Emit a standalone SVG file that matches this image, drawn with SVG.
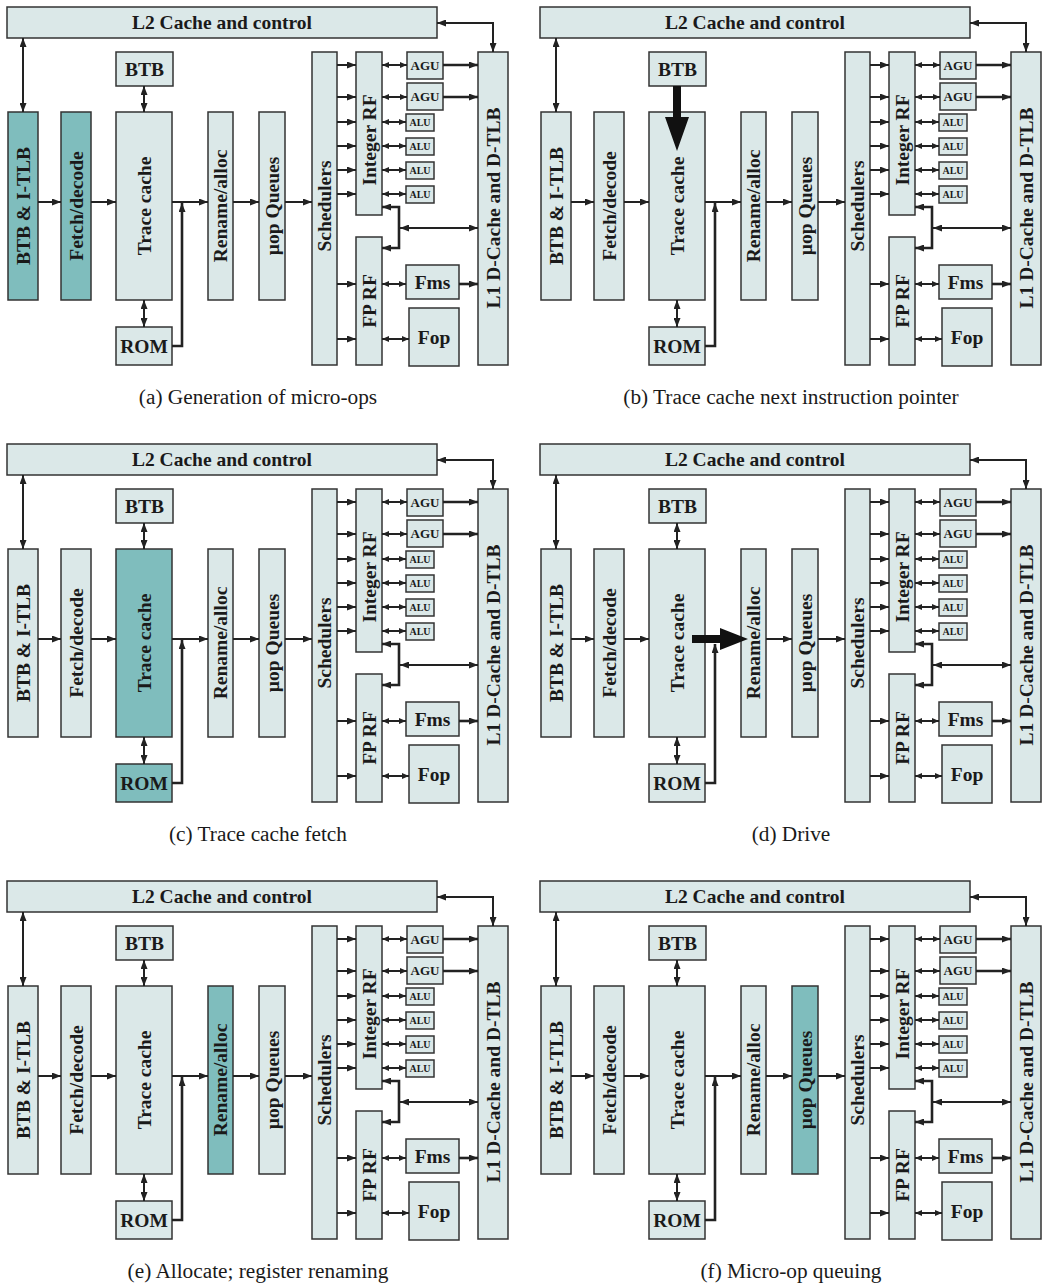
<svg xmlns="http://www.w3.org/2000/svg" width="1044" height="1284" viewBox="0 0 1044 1284">
<style>
.box{fill:#dbe8e8;stroke:#333;stroke-width:1.5}
.hl{fill:#7fbdbd}
.lbl{font-family:"Liberation Serif","Times New Roman",serif;font-weight:bold;font-size:19.5px;fill:#1a1a1a;text-anchor:middle}
.sm{font-size:13px}
.xs{font-size:10px}
.cap{font-family:"Liberation Serif","Times New Roman",serif;font-size:21.3px;fill:#1a1a1a;text-anchor:middle}
.ln{stroke:#222;stroke-width:2;fill:none}
.w{stroke-width:2.6}
.a1{marker-end:url(#ah)}
.a2{marker-start:url(#ah);marker-end:url(#ah)}
.s2{marker-start:url(#as);marker-end:url(#as)}
.big{fill:#111}
</style>
<defs>
<marker id="ah" markerUnits="userSpaceOnUse" markerWidth="9" markerHeight="7" viewBox="0 0 9 7" refX="9" refY="3.5" orient="auto-start-reverse"><path d="M0,0 L9,3.5 L0,7 z" fill="#222"/></marker>
<marker id="as" markerUnits="userSpaceOnUse" markerWidth="7" markerHeight="6" viewBox="0 0 7 6" refX="7" refY="3" orient="auto-start-reverse"><path d="M0,0 L7,3 L0,6 z" fill="#222"/></marker>
</defs>
<rect width="1044" height="1284" fill="#fff"/>

<!-- Panel a -->
<g id="panel-a" transform="translate(0,0)">
<g id="a-l2"><rect class="box" x="7" y="7" width="430" height="31"/><text class="lbl" x="222" y="29">L2 Cache and control</text></g>
<g id="a-btb"><rect class="box" x="116" y="52" width="57" height="34"/><text class="lbl" x="144.5" y="75.5">BTB</text></g>
<g id="a-itlb"><rect class="box hl" x="8" y="112" width="30" height="188"/><text class="lbl" x="23" y="206" dy="0.35em" transform="rotate(-90 23 206)">BTB &amp; I-TLB</text></g>
<g id="a-fetch"><rect class="box hl" x="61" y="112" width="30" height="188"/><text class="lbl" x="76" y="206" dy="0.35em" transform="rotate(-90 76 206)">Fetch/decode</text></g>
<g id="a-trace"><rect class="box" x="116" y="112" width="56" height="188"/><text class="lbl" x="144" y="206" dy="0.35em" transform="rotate(-90 144 206)">Trace cache</text></g>
<g id="a-rom"><rect class="box" x="116" y="327" width="56" height="38"/><text class="lbl" x="144" y="352.5">ROM</text></g>
<g id="a-rename"><rect class="box" x="208" y="112" width="25" height="188"/><text class="lbl" x="220.5" y="206" dy="0.35em" transform="rotate(-90 220.5 206)">Rename/alloc</text></g>
<g id="a-queues"><rect class="box" x="259" y="112" width="26" height="188"/><text class="lbl" x="272" y="206" dy="0.35em" transform="rotate(-90 272 206)">µop Queues</text></g>
<g id="a-sched"><rect class="box" x="312" y="52" width="25" height="313"/><text class="lbl" x="324.5" y="206" dy="0.35em" transform="rotate(-90 324.5 206)">Schedulers</text></g>
<g id="a-intrf"><rect class="box" x="356" y="52" width="26" height="163"/><text class="lbl" x="369" y="140" dy="0.35em" transform="rotate(-90 369 140)">Integer RF</text></g>
<g id="a-fprf"><rect class="box" x="356" y="237" width="26" height="128"/><text class="lbl" x="369" y="301" dy="0.35em" transform="rotate(-90 369 301)">FP RF</text></g>
<g id="a-agu1"><rect class="box" x="407" y="52" width="36" height="27"/><text class="lbl sm" x="425" y="70">AGU</text></g>
<g id="a-agu2"><rect class="box" x="407" y="83" width="36" height="27"/><text class="lbl sm" x="425" y="101">AGU</text></g>
<g id="a-alu1"><rect class="box" x="406" y="114" width="28" height="17"/><text class="lbl xs" x="420" y="126">ALU</text></g>
<g id="a-alu2"><rect class="box" x="406" y="138" width="28" height="17"/><text class="lbl xs" x="420" y="150">ALU</text></g>
<g id="a-alu3"><rect class="box" x="406" y="162" width="28" height="17"/><text class="lbl xs" x="420" y="174">ALU</text></g>
<g id="a-alu4"><rect class="box" x="406" y="186" width="28" height="17"/><text class="lbl xs" x="420" y="198">ALU</text></g>
<g id="a-fms"><rect class="box" x="406" y="265" width="53" height="34"/><text class="lbl" x="432.5" y="288.5">Fms</text></g>
<g id="a-fop"><rect class="box" x="409" y="308" width="50" height="58"/><text class="lbl" x="434" y="343.5">Fop</text></g>
<g id="a-l1"><rect class="box" x="478" y="52" width="30" height="313"/><text class="lbl" x="493" y="208" dy="0.35em" transform="rotate(-90 493 208)">L1 D-Cache and D-TLB</text></g>
<g id="a-connectors">
<path class="ln a2" d="M23,38 V112"/>
<path class="ln a2" d="M493,52 V23 H437"/>
<path class="ln a2" d="M144,86 V112"/>
<path class="ln a2" d="M144,300 V327"/>
<path class="ln a1" d="M38,202 H61"/>
<path class="ln a1" d="M91,202 H116"/>
<path class="ln a1" d="M172,202 H208"/>
<path class="ln w a1" d="M172,346 H182 V203"/>
<path class="ln a1" d="M233,202 H259"/>
<path class="ln a1" d="M285,202 H312"/>
<path class="ln a1" d="M337,65 H356"/>
<path class="ln a1" d="M337,97 H356"/>
<path class="ln a1" d="M337,122 H356"/>
<path class="ln a1" d="M337,146 H356"/>
<path class="ln a1" d="M337,170 H356"/>
<path class="ln a1" d="M337,194 H356"/>
<path class="ln s2" d="M382,65 H407"/>
<path class="ln s2" d="M382,97 H407"/>
<path class="ln s2" d="M382,122 H406"/>
<path class="ln s2" d="M382,146 H406"/>
<path class="ln s2" d="M382,170 H406"/>
<path class="ln s2" d="M382,194 H406"/>
<path class="ln w a1" d="M443,65 H478"/>
<path class="ln w a1" d="M443,97 H478"/>
<path class="ln w a2" d="M382,207 H399 V248 H382"/>
<path class="ln a2" d="M400,228 H478"/>
<path class="ln a1" d="M337,284 H356"/>
<path class="ln a1" d="M337,339 H356"/>
<path class="ln s2" d="M382,284 H406"/>
<path class="ln s2" d="M382,339 H409"/>
<path class="ln w a1" d="M459,284 H478"/>
</g>
<text id="a-caption" class="cap" x="258" y="404">(a) Generation of micro-ops</text>
</g>

<!-- Panel b -->
<g id="panel-b" transform="translate(533,0)">
<g id="b-l2"><rect class="box" x="7" y="7" width="430" height="31"/><text class="lbl" x="222" y="29">L2 Cache and control</text></g>
<g id="b-btb"><rect class="box" x="116" y="52" width="57" height="34"/><text class="lbl" x="144.5" y="75.5">BTB</text></g>
<g id="b-itlb"><rect class="box" x="8" y="112" width="30" height="188"/><text class="lbl" x="23" y="206" dy="0.35em" transform="rotate(-90 23 206)">BTB &amp; I-TLB</text></g>
<g id="b-fetch"><rect class="box" x="61" y="112" width="30" height="188"/><text class="lbl" x="76" y="206" dy="0.35em" transform="rotate(-90 76 206)">Fetch/decode</text></g>
<g id="b-trace"><rect class="box" x="116" y="112" width="56" height="188"/><text class="lbl" x="144" y="206" dy="0.35em" transform="rotate(-90 144 206)">Trace cache</text></g>
<g id="b-rom"><rect class="box" x="116" y="327" width="56" height="38"/><text class="lbl" x="144" y="352.5">ROM</text></g>
<g id="b-rename"><rect class="box" x="208" y="112" width="25" height="188"/><text class="lbl" x="220.5" y="206" dy="0.35em" transform="rotate(-90 220.5 206)">Rename/alloc</text></g>
<g id="b-queues"><rect class="box" x="259" y="112" width="26" height="188"/><text class="lbl" x="272" y="206" dy="0.35em" transform="rotate(-90 272 206)">µop Queues</text></g>
<g id="b-sched"><rect class="box" x="312" y="52" width="25" height="313"/><text class="lbl" x="324.5" y="206" dy="0.35em" transform="rotate(-90 324.5 206)">Schedulers</text></g>
<g id="b-intrf"><rect class="box" x="356" y="52" width="26" height="163"/><text class="lbl" x="369" y="140" dy="0.35em" transform="rotate(-90 369 140)">Integer RF</text></g>
<g id="b-fprf"><rect class="box" x="356" y="237" width="26" height="128"/><text class="lbl" x="369" y="301" dy="0.35em" transform="rotate(-90 369 301)">FP RF</text></g>
<g id="b-agu1"><rect class="box" x="407" y="52" width="36" height="27"/><text class="lbl sm" x="425" y="70">AGU</text></g>
<g id="b-agu2"><rect class="box" x="407" y="83" width="36" height="27"/><text class="lbl sm" x="425" y="101">AGU</text></g>
<g id="b-alu1"><rect class="box" x="406" y="114" width="28" height="17"/><text class="lbl xs" x="420" y="126">ALU</text></g>
<g id="b-alu2"><rect class="box" x="406" y="138" width="28" height="17"/><text class="lbl xs" x="420" y="150">ALU</text></g>
<g id="b-alu3"><rect class="box" x="406" y="162" width="28" height="17"/><text class="lbl xs" x="420" y="174">ALU</text></g>
<g id="b-alu4"><rect class="box" x="406" y="186" width="28" height="17"/><text class="lbl xs" x="420" y="198">ALU</text></g>
<g id="b-fms"><rect class="box" x="406" y="265" width="53" height="34"/><text class="lbl" x="432.5" y="288.5">Fms</text></g>
<g id="b-fop"><rect class="box" x="409" y="308" width="50" height="58"/><text class="lbl" x="434" y="343.5">Fop</text></g>
<g id="b-l1"><rect class="box" x="478" y="52" width="30" height="313"/><text class="lbl" x="493" y="208" dy="0.35em" transform="rotate(-90 493 208)">L1 D-Cache and D-TLB</text></g>
<g id="b-connectors">
<path class="ln a2" d="M23,38 V112"/>
<path class="ln a2" d="M493,52 V23 H437"/>
<path class="ln a2" d="M144,300 V327"/>
<path class="ln a1" d="M38,202 H61"/>
<path class="ln a1" d="M91,202 H116"/>
<path class="ln a1" d="M172,202 H208"/>
<path class="ln w a1" d="M172,346 H182 V203"/>
<path class="ln a1" d="M233,202 H259"/>
<path class="ln a1" d="M285,202 H312"/>
<path class="ln a1" d="M337,65 H356"/>
<path class="ln a1" d="M337,97 H356"/>
<path class="ln a1" d="M337,122 H356"/>
<path class="ln a1" d="M337,146 H356"/>
<path class="ln a1" d="M337,170 H356"/>
<path class="ln a1" d="M337,194 H356"/>
<path class="ln s2" d="M382,65 H407"/>
<path class="ln s2" d="M382,97 H407"/>
<path class="ln s2" d="M382,122 H406"/>
<path class="ln s2" d="M382,146 H406"/>
<path class="ln s2" d="M382,170 H406"/>
<path class="ln s2" d="M382,194 H406"/>
<path class="ln w a1" d="M443,65 H478"/>
<path class="ln w a1" d="M443,97 H478"/>
<path class="ln w a2" d="M382,207 H399 V248 H382"/>
<path class="ln a2" d="M400,228 H478"/>
<path class="ln a1" d="M337,284 H356"/>
<path class="ln a1" d="M337,339 H356"/>
<path class="ln s2" d="M382,284 H406"/>
<path class="ln s2" d="M382,339 H409"/>
<path class="ln w a1" d="M459,284 H478"/>
<path id="b-bigarrow" class="big" d="M140,86 H148 V117 H156 L144,151 L132,117 H140 Z"/>
</g>
<text id="b-caption" class="cap" x="258" y="404">(b) Trace cache next instruction pointer</text>
</g>

<!-- Panel c -->
<g id="panel-c" transform="translate(0,437)">
<g id="c-l2"><rect class="box" x="7" y="7" width="430" height="31"/><text class="lbl" x="222" y="29">L2 Cache and control</text></g>
<g id="c-btb"><rect class="box" x="116" y="52" width="57" height="34"/><text class="lbl" x="144.5" y="75.5">BTB</text></g>
<g id="c-itlb"><rect class="box" x="8" y="112" width="30" height="188"/><text class="lbl" x="23" y="206" dy="0.35em" transform="rotate(-90 23 206)">BTB &amp; I-TLB</text></g>
<g id="c-fetch"><rect class="box" x="61" y="112" width="30" height="188"/><text class="lbl" x="76" y="206" dy="0.35em" transform="rotate(-90 76 206)">Fetch/decode</text></g>
<g id="c-trace"><rect class="box hl" x="116" y="112" width="56" height="188"/><text class="lbl" x="144" y="206" dy="0.35em" transform="rotate(-90 144 206)">Trace cache</text></g>
<g id="c-rom"><rect class="box hl" x="116" y="327" width="56" height="38"/><text class="lbl" x="144" y="352.5">ROM</text></g>
<g id="c-rename"><rect class="box" x="208" y="112" width="25" height="188"/><text class="lbl" x="220.5" y="206" dy="0.35em" transform="rotate(-90 220.5 206)">Rename/alloc</text></g>
<g id="c-queues"><rect class="box" x="259" y="112" width="26" height="188"/><text class="lbl" x="272" y="206" dy="0.35em" transform="rotate(-90 272 206)">µop Queues</text></g>
<g id="c-sched"><rect class="box" x="312" y="52" width="25" height="313"/><text class="lbl" x="324.5" y="206" dy="0.35em" transform="rotate(-90 324.5 206)">Schedulers</text></g>
<g id="c-intrf"><rect class="box" x="356" y="52" width="26" height="163"/><text class="lbl" x="369" y="140" dy="0.35em" transform="rotate(-90 369 140)">Integer RF</text></g>
<g id="c-fprf"><rect class="box" x="356" y="237" width="26" height="128"/><text class="lbl" x="369" y="301" dy="0.35em" transform="rotate(-90 369 301)">FP RF</text></g>
<g id="c-agu1"><rect class="box" x="407" y="52" width="36" height="27"/><text class="lbl sm" x="425" y="70">AGU</text></g>
<g id="c-agu2"><rect class="box" x="407" y="83" width="36" height="27"/><text class="lbl sm" x="425" y="101">AGU</text></g>
<g id="c-alu1"><rect class="box" x="406" y="114" width="28" height="17"/><text class="lbl xs" x="420" y="126">ALU</text></g>
<g id="c-alu2"><rect class="box" x="406" y="138" width="28" height="17"/><text class="lbl xs" x="420" y="150">ALU</text></g>
<g id="c-alu3"><rect class="box" x="406" y="162" width="28" height="17"/><text class="lbl xs" x="420" y="174">ALU</text></g>
<g id="c-alu4"><rect class="box" x="406" y="186" width="28" height="17"/><text class="lbl xs" x="420" y="198">ALU</text></g>
<g id="c-fms"><rect class="box" x="406" y="265" width="53" height="34"/><text class="lbl" x="432.5" y="288.5">Fms</text></g>
<g id="c-fop"><rect class="box" x="409" y="308" width="50" height="58"/><text class="lbl" x="434" y="343.5">Fop</text></g>
<g id="c-l1"><rect class="box" x="478" y="52" width="30" height="313"/><text class="lbl" x="493" y="208" dy="0.35em" transform="rotate(-90 493 208)">L1 D-Cache and D-TLB</text></g>
<g id="c-connectors">
<path class="ln a2" d="M23,38 V112"/>
<path class="ln a2" d="M493,52 V23 H437"/>
<path class="ln a2" d="M144,86 V112"/>
<path class="ln a2" d="M144,300 V327"/>
<path class="ln a1" d="M38,202 H61"/>
<path class="ln a1" d="M91,202 H116"/>
<path class="ln a1" d="M172,202 H208"/>
<path class="ln w a1" d="M172,346 H182 V203"/>
<path class="ln a1" d="M233,202 H259"/>
<path class="ln a1" d="M285,202 H312"/>
<path class="ln a1" d="M337,65 H356"/>
<path class="ln a1" d="M337,97 H356"/>
<path class="ln a1" d="M337,122 H356"/>
<path class="ln a1" d="M337,146 H356"/>
<path class="ln a1" d="M337,170 H356"/>
<path class="ln a1" d="M337,194 H356"/>
<path class="ln s2" d="M382,65 H407"/>
<path class="ln s2" d="M382,97 H407"/>
<path class="ln s2" d="M382,122 H406"/>
<path class="ln s2" d="M382,146 H406"/>
<path class="ln s2" d="M382,170 H406"/>
<path class="ln s2" d="M382,194 H406"/>
<path class="ln w a1" d="M443,65 H478"/>
<path class="ln w a1" d="M443,97 H478"/>
<path class="ln w a2" d="M382,207 H399 V248 H382"/>
<path class="ln a2" d="M400,228 H478"/>
<path class="ln a1" d="M337,284 H356"/>
<path class="ln a1" d="M337,339 H356"/>
<path class="ln s2" d="M382,284 H406"/>
<path class="ln s2" d="M382,339 H409"/>
<path class="ln w a1" d="M459,284 H478"/>
</g>
<text id="c-caption" class="cap" x="258" y="404">(c) Trace cache fetch</text>
</g>

<!-- Panel d -->
<g id="panel-d" transform="translate(533,437)">
<g id="d-l2"><rect class="box" x="7" y="7" width="430" height="31"/><text class="lbl" x="222" y="29">L2 Cache and control</text></g>
<g id="d-btb"><rect class="box" x="116" y="52" width="57" height="34"/><text class="lbl" x="144.5" y="75.5">BTB</text></g>
<g id="d-itlb"><rect class="box" x="8" y="112" width="30" height="188"/><text class="lbl" x="23" y="206" dy="0.35em" transform="rotate(-90 23 206)">BTB &amp; I-TLB</text></g>
<g id="d-fetch"><rect class="box" x="61" y="112" width="30" height="188"/><text class="lbl" x="76" y="206" dy="0.35em" transform="rotate(-90 76 206)">Fetch/decode</text></g>
<g id="d-trace"><rect class="box" x="116" y="112" width="56" height="188"/><text class="lbl" x="144" y="206" dy="0.35em" transform="rotate(-90 144 206)">Trace cache</text></g>
<g id="d-rom"><rect class="box" x="116" y="327" width="56" height="38"/><text class="lbl" x="144" y="352.5">ROM</text></g>
<g id="d-rename"><rect class="box" x="208" y="112" width="25" height="188"/><text class="lbl" x="220.5" y="206" dy="0.35em" transform="rotate(-90 220.5 206)">Rename/alloc</text></g>
<g id="d-queues"><rect class="box" x="259" y="112" width="26" height="188"/><text class="lbl" x="272" y="206" dy="0.35em" transform="rotate(-90 272 206)">µop Queues</text></g>
<g id="d-sched"><rect class="box" x="312" y="52" width="25" height="313"/><text class="lbl" x="324.5" y="206" dy="0.35em" transform="rotate(-90 324.5 206)">Schedulers</text></g>
<g id="d-intrf"><rect class="box" x="356" y="52" width="26" height="163"/><text class="lbl" x="369" y="140" dy="0.35em" transform="rotate(-90 369 140)">Integer RF</text></g>
<g id="d-fprf"><rect class="box" x="356" y="237" width="26" height="128"/><text class="lbl" x="369" y="301" dy="0.35em" transform="rotate(-90 369 301)">FP RF</text></g>
<g id="d-agu1"><rect class="box" x="407" y="52" width="36" height="27"/><text class="lbl sm" x="425" y="70">AGU</text></g>
<g id="d-agu2"><rect class="box" x="407" y="83" width="36" height="27"/><text class="lbl sm" x="425" y="101">AGU</text></g>
<g id="d-alu1"><rect class="box" x="406" y="114" width="28" height="17"/><text class="lbl xs" x="420" y="126">ALU</text></g>
<g id="d-alu2"><rect class="box" x="406" y="138" width="28" height="17"/><text class="lbl xs" x="420" y="150">ALU</text></g>
<g id="d-alu3"><rect class="box" x="406" y="162" width="28" height="17"/><text class="lbl xs" x="420" y="174">ALU</text></g>
<g id="d-alu4"><rect class="box" x="406" y="186" width="28" height="17"/><text class="lbl xs" x="420" y="198">ALU</text></g>
<g id="d-fms"><rect class="box" x="406" y="265" width="53" height="34"/><text class="lbl" x="432.5" y="288.5">Fms</text></g>
<g id="d-fop"><rect class="box" x="409" y="308" width="50" height="58"/><text class="lbl" x="434" y="343.5">Fop</text></g>
<g id="d-l1"><rect class="box" x="478" y="52" width="30" height="313"/><text class="lbl" x="493" y="208" dy="0.35em" transform="rotate(-90 493 208)">L1 D-Cache and D-TLB</text></g>
<g id="d-connectors">
<path class="ln a2" d="M23,38 V112"/>
<path class="ln a2" d="M493,52 V23 H437"/>
<path class="ln a2" d="M144,86 V112"/>
<path class="ln a2" d="M144,300 V327"/>
<path class="ln a1" d="M38,202 H61"/>
<path class="ln a1" d="M91,202 H116"/>
<path class="ln w a1" d="M172,346 H182 V207"/>
<path class="ln a1" d="M233,202 H259"/>
<path class="ln a1" d="M285,202 H312"/>
<path class="ln a1" d="M337,65 H356"/>
<path class="ln a1" d="M337,97 H356"/>
<path class="ln a1" d="M337,122 H356"/>
<path class="ln a1" d="M337,146 H356"/>
<path class="ln a1" d="M337,170 H356"/>
<path class="ln a1" d="M337,194 H356"/>
<path class="ln s2" d="M382,65 H407"/>
<path class="ln s2" d="M382,97 H407"/>
<path class="ln s2" d="M382,122 H406"/>
<path class="ln s2" d="M382,146 H406"/>
<path class="ln s2" d="M382,170 H406"/>
<path class="ln s2" d="M382,194 H406"/>
<path class="ln w a1" d="M443,65 H478"/>
<path class="ln w a1" d="M443,97 H478"/>
<path class="ln w a2" d="M382,207 H399 V248 H382"/>
<path class="ln a2" d="M400,228 H478"/>
<path class="ln a1" d="M337,284 H356"/>
<path class="ln a1" d="M337,339 H356"/>
<path class="ln s2" d="M382,284 H406"/>
<path class="ln s2" d="M382,339 H409"/>
<path class="ln w a1" d="M459,284 H478"/>
<path id="d-bigarrow" class="big" d="M159,198 H187 V191 L215,202 L187,213 V206 H159 Z"/>
</g>
<text id="d-caption" class="cap" x="258" y="404">(d) Drive</text>
</g>

<!-- Panel e -->
<g id="panel-e" transform="translate(0,874)">
<g id="e-l2"><rect class="box" x="7" y="7" width="430" height="31"/><text class="lbl" x="222" y="29">L2 Cache and control</text></g>
<g id="e-btb"><rect class="box" x="116" y="52" width="57" height="34"/><text class="lbl" x="144.5" y="75.5">BTB</text></g>
<g id="e-itlb"><rect class="box" x="8" y="112" width="30" height="188"/><text class="lbl" x="23" y="206" dy="0.35em" transform="rotate(-90 23 206)">BTB &amp; I-TLB</text></g>
<g id="e-fetch"><rect class="box" x="61" y="112" width="30" height="188"/><text class="lbl" x="76" y="206" dy="0.35em" transform="rotate(-90 76 206)">Fetch/decode</text></g>
<g id="e-trace"><rect class="box" x="116" y="112" width="56" height="188"/><text class="lbl" x="144" y="206" dy="0.35em" transform="rotate(-90 144 206)">Trace cache</text></g>
<g id="e-rom"><rect class="box" x="116" y="327" width="56" height="38"/><text class="lbl" x="144" y="352.5">ROM</text></g>
<g id="e-rename"><rect class="box hl" x="208" y="112" width="25" height="188"/><text class="lbl" x="220.5" y="206" dy="0.35em" transform="rotate(-90 220.5 206)">Rename/alloc</text></g>
<g id="e-queues"><rect class="box" x="259" y="112" width="26" height="188"/><text class="lbl" x="272" y="206" dy="0.35em" transform="rotate(-90 272 206)">µop Queues</text></g>
<g id="e-sched"><rect class="box" x="312" y="52" width="25" height="313"/><text class="lbl" x="324.5" y="206" dy="0.35em" transform="rotate(-90 324.5 206)">Schedulers</text></g>
<g id="e-intrf"><rect class="box" x="356" y="52" width="26" height="163"/><text class="lbl" x="369" y="140" dy="0.35em" transform="rotate(-90 369 140)">Integer RF</text></g>
<g id="e-fprf"><rect class="box" x="356" y="237" width="26" height="128"/><text class="lbl" x="369" y="301" dy="0.35em" transform="rotate(-90 369 301)">FP RF</text></g>
<g id="e-agu1"><rect class="box" x="407" y="52" width="36" height="27"/><text class="lbl sm" x="425" y="70">AGU</text></g>
<g id="e-agu2"><rect class="box" x="407" y="83" width="36" height="27"/><text class="lbl sm" x="425" y="101">AGU</text></g>
<g id="e-alu1"><rect class="box" x="406" y="114" width="28" height="17"/><text class="lbl xs" x="420" y="126">ALU</text></g>
<g id="e-alu2"><rect class="box" x="406" y="138" width="28" height="17"/><text class="lbl xs" x="420" y="150">ALU</text></g>
<g id="e-alu3"><rect class="box" x="406" y="162" width="28" height="17"/><text class="lbl xs" x="420" y="174">ALU</text></g>
<g id="e-alu4"><rect class="box" x="406" y="186" width="28" height="17"/><text class="lbl xs" x="420" y="198">ALU</text></g>
<g id="e-fms"><rect class="box" x="406" y="265" width="53" height="34"/><text class="lbl" x="432.5" y="288.5">Fms</text></g>
<g id="e-fop"><rect class="box" x="409" y="308" width="50" height="58"/><text class="lbl" x="434" y="343.5">Fop</text></g>
<g id="e-l1"><rect class="box" x="478" y="52" width="30" height="313"/><text class="lbl" x="493" y="208" dy="0.35em" transform="rotate(-90 493 208)">L1 D-Cache and D-TLB</text></g>
<g id="e-connectors">
<path class="ln a2" d="M23,38 V112"/>
<path class="ln a2" d="M493,52 V23 H437"/>
<path class="ln a2" d="M144,86 V112"/>
<path class="ln a2" d="M144,300 V327"/>
<path class="ln a1" d="M38,202 H61"/>
<path class="ln a1" d="M91,202 H116"/>
<path class="ln a1" d="M172,202 H208"/>
<path class="ln w a1" d="M172,346 H182 V203"/>
<path class="ln a1" d="M233,202 H259"/>
<path class="ln a1" d="M285,202 H312"/>
<path class="ln a1" d="M337,65 H356"/>
<path class="ln a1" d="M337,97 H356"/>
<path class="ln a1" d="M337,122 H356"/>
<path class="ln a1" d="M337,146 H356"/>
<path class="ln a1" d="M337,170 H356"/>
<path class="ln a1" d="M337,194 H356"/>
<path class="ln s2" d="M382,65 H407"/>
<path class="ln s2" d="M382,97 H407"/>
<path class="ln s2" d="M382,122 H406"/>
<path class="ln s2" d="M382,146 H406"/>
<path class="ln s2" d="M382,170 H406"/>
<path class="ln s2" d="M382,194 H406"/>
<path class="ln w a1" d="M443,65 H478"/>
<path class="ln w a1" d="M443,97 H478"/>
<path class="ln w a2" d="M382,207 H399 V248 H382"/>
<path class="ln a2" d="M400,228 H478"/>
<path class="ln a1" d="M337,284 H356"/>
<path class="ln a1" d="M337,339 H356"/>
<path class="ln s2" d="M382,284 H406"/>
<path class="ln s2" d="M382,339 H409"/>
<path class="ln w a1" d="M459,284 H478"/>
</g>
<text id="e-caption" class="cap" x="258" y="404">(e) Allocate; register renaming</text>
</g>

<!-- Panel f -->
<g id="panel-f" transform="translate(533,874)">
<g id="f-l2"><rect class="box" x="7" y="7" width="430" height="31"/><text class="lbl" x="222" y="29">L2 Cache and control</text></g>
<g id="f-btb"><rect class="box" x="116" y="52" width="57" height="34"/><text class="lbl" x="144.5" y="75.5">BTB</text></g>
<g id="f-itlb"><rect class="box" x="8" y="112" width="30" height="188"/><text class="lbl" x="23" y="206" dy="0.35em" transform="rotate(-90 23 206)">BTB &amp; I-TLB</text></g>
<g id="f-fetch"><rect class="box" x="61" y="112" width="30" height="188"/><text class="lbl" x="76" y="206" dy="0.35em" transform="rotate(-90 76 206)">Fetch/decode</text></g>
<g id="f-trace"><rect class="box" x="116" y="112" width="56" height="188"/><text class="lbl" x="144" y="206" dy="0.35em" transform="rotate(-90 144 206)">Trace cache</text></g>
<g id="f-rom"><rect class="box" x="116" y="327" width="56" height="38"/><text class="lbl" x="144" y="352.5">ROM</text></g>
<g id="f-rename"><rect class="box" x="208" y="112" width="25" height="188"/><text class="lbl" x="220.5" y="206" dy="0.35em" transform="rotate(-90 220.5 206)">Rename/alloc</text></g>
<g id="f-queues"><rect class="box hl" x="259" y="112" width="26" height="188"/><text class="lbl" x="272" y="206" dy="0.35em" transform="rotate(-90 272 206)">µop Queues</text></g>
<g id="f-sched"><rect class="box" x="312" y="52" width="25" height="313"/><text class="lbl" x="324.5" y="206" dy="0.35em" transform="rotate(-90 324.5 206)">Schedulers</text></g>
<g id="f-intrf"><rect class="box" x="356" y="52" width="26" height="163"/><text class="lbl" x="369" y="140" dy="0.35em" transform="rotate(-90 369 140)">Integer RF</text></g>
<g id="f-fprf"><rect class="box" x="356" y="237" width="26" height="128"/><text class="lbl" x="369" y="301" dy="0.35em" transform="rotate(-90 369 301)">FP RF</text></g>
<g id="f-agu1"><rect class="box" x="407" y="52" width="36" height="27"/><text class="lbl sm" x="425" y="70">AGU</text></g>
<g id="f-agu2"><rect class="box" x="407" y="83" width="36" height="27"/><text class="lbl sm" x="425" y="101">AGU</text></g>
<g id="f-alu1"><rect class="box" x="406" y="114" width="28" height="17"/><text class="lbl xs" x="420" y="126">ALU</text></g>
<g id="f-alu2"><rect class="box" x="406" y="138" width="28" height="17"/><text class="lbl xs" x="420" y="150">ALU</text></g>
<g id="f-alu3"><rect class="box" x="406" y="162" width="28" height="17"/><text class="lbl xs" x="420" y="174">ALU</text></g>
<g id="f-alu4"><rect class="box" x="406" y="186" width="28" height="17"/><text class="lbl xs" x="420" y="198">ALU</text></g>
<g id="f-fms"><rect class="box" x="406" y="265" width="53" height="34"/><text class="lbl" x="432.5" y="288.5">Fms</text></g>
<g id="f-fop"><rect class="box" x="409" y="308" width="50" height="58"/><text class="lbl" x="434" y="343.5">Fop</text></g>
<g id="f-l1"><rect class="box" x="478" y="52" width="30" height="313"/><text class="lbl" x="493" y="208" dy="0.35em" transform="rotate(-90 493 208)">L1 D-Cache and D-TLB</text></g>
<g id="f-connectors">
<path class="ln a2" d="M23,38 V112"/>
<path class="ln a2" d="M493,52 V23 H437"/>
<path class="ln a2" d="M144,86 V112"/>
<path class="ln a2" d="M144,300 V327"/>
<path class="ln a1" d="M38,202 H61"/>
<path class="ln a1" d="M91,202 H116"/>
<path class="ln a1" d="M172,202 H208"/>
<path class="ln w a1" d="M172,346 H182 V203"/>
<path class="ln a1" d="M233,202 H259"/>
<path class="ln a1" d="M285,202 H312"/>
<path class="ln a1" d="M337,65 H356"/>
<path class="ln a1" d="M337,97 H356"/>
<path class="ln a1" d="M337,122 H356"/>
<path class="ln a1" d="M337,146 H356"/>
<path class="ln a1" d="M337,170 H356"/>
<path class="ln a1" d="M337,194 H356"/>
<path class="ln s2" d="M382,65 H407"/>
<path class="ln s2" d="M382,97 H407"/>
<path class="ln s2" d="M382,122 H406"/>
<path class="ln s2" d="M382,146 H406"/>
<path class="ln s2" d="M382,170 H406"/>
<path class="ln s2" d="M382,194 H406"/>
<path class="ln w a1" d="M443,65 H478"/>
<path class="ln w a1" d="M443,97 H478"/>
<path class="ln w a2" d="M382,207 H399 V248 H382"/>
<path class="ln a2" d="M400,228 H478"/>
<path class="ln a1" d="M337,284 H356"/>
<path class="ln a1" d="M337,339 H356"/>
<path class="ln s2" d="M382,284 H406"/>
<path class="ln s2" d="M382,339 H409"/>
<path class="ln w a1" d="M459,284 H478"/>
</g>
<text id="f-caption" class="cap" x="258" y="404">(f) Micro-op queuing</text>
</g>
</svg>
